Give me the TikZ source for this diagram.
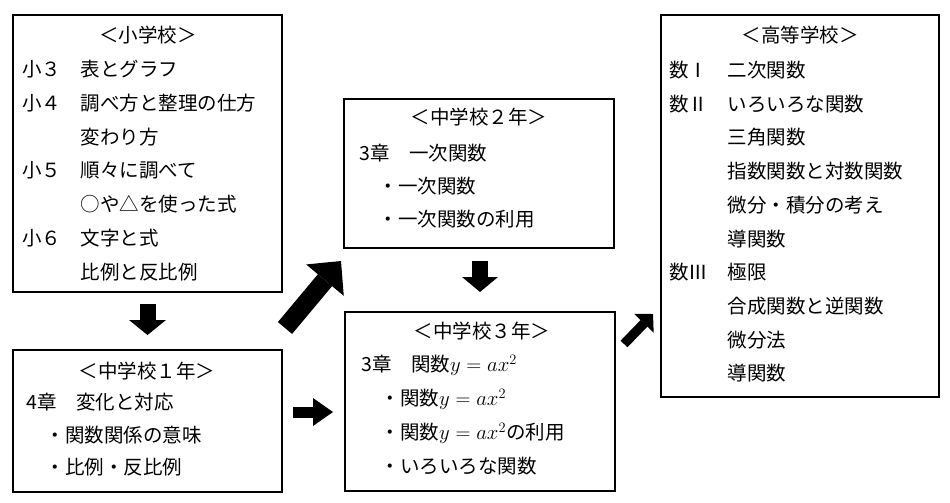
\documentclass[tikz,border=0pt]{standalone}
\usepackage{fontspec}
\setmainfont{Noto Sans CJK JP}
\usetikzlibrary{arrows.meta,calc}

\begin{document}
\begin{tikzpicture}[x=1pt,y=-1pt,
  box/.style={draw,line width=1.2pt,inner sep=0pt,outer sep=0pt},
  head/.style={inner sep=0pt,font=\fontsize{19.5}{24}\selectfont},
  body/.style={anchor=north west,inner sep=0pt,font=\fontsize{19.5}{#1}\selectfont},
  blk/.style n args={3}{line width=#1pt,-{Triangle[width=#2pt,length=#3pt,line width=0pt]}}]
\useasboundingbox (0,0) rectangle (950,503);

% the five boxes
\path (147.5,153.5) node[box,minimum width=269,minimum height=277] (elem) {};
\path (147.5,421) node[box,minimum width=269,minimum height=142] (jh1) {};
\path (479,173.5) node[box,minimum width=270,minimum height=149] (jh2) {};
\path (480,401.5) node[box,line width=2.4pt,minimum width=270,minimum height=179] (jh3) {};
\path (800,206) node[box,minimum width=278,minimum height=382] (high) {};

% titles
\path (148,35) node[head] (elem-t) {＜小学校＞};
\path (147,371) node[head] (jh1-t) {＜中学校１年＞};
\path (479,117) node[head] (jh2-t) {＜中学校２年＞};
\path (482,331) node[head] (jh3-t) {＜中学校３年＞};
\path (800,35) node[head] (high-t) {＜高等学校＞};

% contents
\path (22,52.7) node[body=33.8] (elem-b) {\begin{tabular}{@{}l@{}}
小３　表とグラフ\\
小４　調べ方と整理の仕方\\
　　　変わり方\\
小５　順々に調べて\\
　　　○や△を使った式\\
小６　文字と式\\
　　　比例と反比例
\end{tabular}};
\path (26,386.6) node[body=32.5] (jh1-b) {\begin{tabular}{@{}l@{}}
4章　変化と対応\\
　・関数関係の意味\\
　・比例・反比例
\end{tabular}};
\path (359,137.3) node[body=33] (jh2-b) {\begin{tabular}{@{}l@{}}
3章　一次関数\\
　・一次関数\\
　・一次関数の利用
\end{tabular}};
\path (361,347.6) node[body=34] (jh3-b) {\begin{tabular}{@{}l@{}}
3章　関数$y = ax^2$\\
　・関数$y = ax^2$\\
　・関数$y = ax^2$の利用\\
　・いろいろな関数
\end{tabular}};
\path (669,53.8) node[body=33.7] (high-b) {\begin{tabular}{@{}l@{}}
数Ⅰ　二次関数\\
数Ⅱ　いろいろな関数\\
　　　三角関数\\
　　　指数関数と対数関数\\
　　　微分・積分の考え\\
　　　導関数\\
数Ⅲ　極限\\
　　　合成関数と逆関数\\
　　　微分法\\
　　　導関数
\end{tabular}};

% block arrows
\path[blk={16}{37}{15},shorten <=12pt,shorten >=15pt] (elem.south) edge (jh1.north);
\path[blk={16}{36}{15},shorten <=13pt,shorten >=20pt] (jh3.north |- jh2.south) edge (jh3.north);
\path[blk={11}{28}{20},shorten <=11pt,shorten >=12pt] ($(jh1.east)+(0,-9)$) edge ($(jh3.west |- jh1.east)+(0,-9)$);
\path[blk={18.5}{49}{25}] ($(jh1.north east)+(3,-22)$) edge ($(jh2.south west)+(-3,13)$);
\path[blk={9.5}{27}{13}] ($(jh3.north east)+(9,32)$) edge ($(high.south west)+(-8,-83)$);

\end{tikzpicture}
\end{document}
